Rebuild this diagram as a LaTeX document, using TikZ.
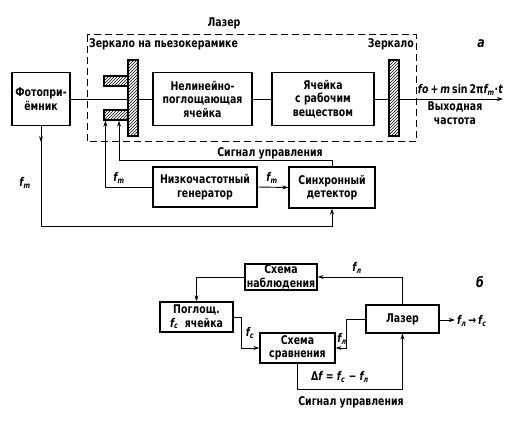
\documentclass[tikz,border=0pt]{standalone}
\usepackage{fontspec}
\setmainfont{DejaVu Sans Condensed}[FakeStretch=0.87]
\usetikzlibrary{arrows.meta,patterns,decorations.markings,calc}
\begin{document}
\begin{tikzpicture}[x=1pt,y=-1pt,
  txt/.style={font=\bfseries\fontsize{12}{13.5}\selectfont},
  box/.style={draw, line width=1.3pt, align=center, inner sep=1pt, txt},
  hatch/.style={draw, line width=1.2pt, pattern=north east lines, inner sep=0pt},
  conn/.style={line width=0.9pt},
  arr/.style={conn, -{Stealth[length=6pt,width=4pt]}},
  lbl/.style={txt, inner sep=0pt, align=center}]
\useasboundingbox (0,0) rectangle (512,422);
% ---------- diagram a ----------
\draw[line width=1pt, dash pattern=on 7pt off 4pt] (87,35) rectangle (416,142);
\node[lbl] (tlaser) at (224,23) {Лазер};
\node[lbl, anchor=west] (tpiezo) at (89,44) {Зеркало на пьезокерамике};
\node[lbl, anchor=east] (tmirr) at (414,44) {Зеркало};
\node[lbl, font=\bfseries\fontsize{14}{14}\selectfont] (ta) at (481,44) {\itshape a};

\node[box, minimum width=58pt, minimum height=53pt] (foto) at (41,99) {Фотопри-\\ёмник};
\node[box, minimum width=99pt, minimum height=53pt] (nonlin) at (202.5,99) {Нелинейно-\\поглощающая\\ячейка};
\node[box, minimum width=102pt, minimum height=53pt] (cell) at (323,99) {Ячейка\\с рабочим\\веществом};
\node[hatch, minimum width=10pt, minimum height=76pt] (mirL) at (133,98) {};
\node[hatch, minimum width=24pt, minimum height=10pt] (blkU) at (116,81) {};
\node[hatch, minimum width=24pt, minimum height=10pt] (blkD) at (116,115) {};
\node[hatch, minimum width=10pt, minimum height=76pt] (mirR) at (394,98) {};
\node[box, minimum width=104pt, minimum height=40pt] (gen) at (205,187) {Низкочастотный\\генератор};
\node[box, minimum width=86pt, minimum height=41pt] (det) at (332,187.5) {Синхронный\\детектор};

\coordinate (out) at (503,99);
\coordinate (c1) at (41,226);
\draw[conn] (foto.east |- 0,99) -- (mirL.west |- 0,99);
\draw[conn] (mirL.east |- 0,99) -- (nonlin.west);
\draw[conn] (nonlin.east) -- (cell.west);
\draw[conn] (cell.east) -- (mirR.west |- 0,99);
\draw[arr] (mirR.east |- 0,99) -- (out);
\node[lbl, anchor=south east] (tout) at (503,96) {\itshape fo\,\upshape +\,\itshape m\upshape\,sin\,2π\itshape f\textsubscript{\itshape m}\upshape·\itshape t};
\node[lbl, anchor=north] (tout2) at (455,102) {Выходная\\частота};

\draw[arr, postaction={decorate}, decoration={markings, mark=at position 16pt with {\arrow{Stealth[length=6pt,width=4pt]}}}]
  (foto.south) -- (c1) -| (det.south);
\node[lbl] (lfm1) at (25,183) {\itshape f\textsubscript{\itshape m}};

\draw[arr] (gen.west) -| ([xshift=2pt]blkD.south west);
\node[lbl] (lfm2) at (119,178) {\itshape f\textsubscript{\itshape m}};
\draw[arr] (det.north) -- ++(0,-6) -| ([xshift=3pt]blkD.south);
\node[lbl] (tsig1) at (270,153) {Сигнал управления};
\draw[arr] (gen.east) -- (det.west);
\node[lbl] (lfm3) at (272,178) {\itshape f\textsubscript{\itshape m}};

% ---------- diagram b ----------
\node[box, minimum width=72pt, minimum height=26pt, inner sep=0pt] (obs) at (281,277) {Схема\\наблюдения};
\node[box, minimum width=73pt, minimum height=30pt, inner sep=0pt] (abs) at (196.5,317) {Поглощ.\\\itshape f\textsubscript{с}\upshape\ \ ячейка};
\node[box, minimum width=75pt, minimum height=30pt, inner sep=0pt] (cmp) at (297.5,348) {Схема\\сравнения};
\node[box, minimum width=73pt, minimum height=28pt] (las) at (402.5,319) {Лазер};
\node[lbl, font=\bfseries\fontsize{14}{14}\selectfont] (tb) at (480,282) {\itshape б};

\draw[arr] (las.north) |- (obs.east);
\node[lbl] (lfl1) at (357,268) {\itshape f\textsubscript{л}};
\draw[arr] (obs.west) -| (abs.north);
\draw[arr] (abs.east) -- ++(8,0) |- (cmp.west);
\node[lbl] (lfc) at (250,333) {\itshape f\textsubscript{с}};
\draw[arr] (las.west) -- ++(-19,0) |- (cmp.east);
\node[lbl] (lfl2) at (342,339) {\itshape f\textsubscript{л}};
\draw[arr] (cmp.south) -- ++(0,26) -| (las.south);
\node[lbl] (tdf) at (340,377) {Δ\itshape f\upshape\ = \itshape f\textsubscript{с}\upshape\ − \itshape f\textsubscript{л}};
\node[lbl] (tsig2) at (351,402) {Сигнал управления};
\coordinate (out2) at (455,320);
\draw[arr] (las.east |- out2) -- (out2);
\node[lbl, anchor=west] (tout3) at (457,321) {\itshape f\textsubscript{л}\upshape\,→\,\itshape f\textsubscript{с}};
\end{tikzpicture}
\end{document}
